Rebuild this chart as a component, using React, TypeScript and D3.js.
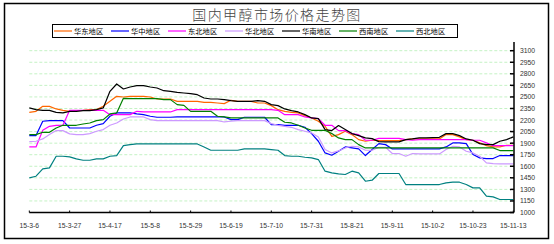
import React from 'react';
import * as d3 from 'd3';

const xTickLabels = ['15-3-6', '15-3-27', '15-4-17', '15-5-8', '15-5-29', '15-6-19', '15-7-10', '15-7-31', '15-8-21', '15-9-11', '15-10-2', '15-10-23', '15-11-13'];
const yTicks = [1000, 1150, 1300, 1450, 1600, 1750, 1900, 2050, 2200, 2350, 2500, 2650, 2800, 2950, 3100];
const seriesNames = ['华东地区', '华中地区', '东北地区', '华北地区', '华南地区', '西南地区', '西北地区'];
const seriesColors = ['#ff6600', '#0000ff', '#ff00ff', '#cc99ff', '#000000', '#008000', '#008080'];

// values every half week from 2015-3-6
const eastChina = [2300, 2313, 2378, 2378, 2344, 2326, 2313, 2322, 2326, 2335, 2335, 2378, 2443, 2508, 2499, 2508, 2508, 2508, 2499, 2473, 2473, 2473, 2443, 2443, 2443, 2443, 2430, 2430, 2421, 2413, 2456, 2443, 2443, 2443, 2421, 2421,
  2387, 2335, 2313, 2300, 2292, 2257, 2227, 2184, 2119, 1989, 2011, 2054, 2011, 1946, 1925, 1938, 1933, 1933, 1933, 1933, 1946, 1955, 1955, 1955, 1955, 1955, 2011, 2011, 1981, 1946, 1938, 1903, 1868, 1851, 1851, 1873, 1873];
const centralChina = [1998, 1998, 2184, 2192, 2192, 2192, 2097, 2097, 2097, 2097, 2132, 2154, 2249, 2292, 2292, 2292, 2279, 2270, 2249, 2236, 2236, 2236, 2240, 2240, 2240, 2240, 2240, 2240, 2240, 2240, 2205, 2205, 2236, 2236, 2236, 2236,
  2141, 2141, 2132, 2132, 2132, 2106, 2024, 1925, 1773, 1743, 1795, 1851, 1838, 1825, 1739, 1817, 1894, 1881, 1825, 1825, 1825, 1825, 1825, 1825, 1825, 1825, 1851, 1903, 1903, 1894, 1752, 1709, 1700, 1700, 1739, 1739, 1739];
const northeast = [1851, 1851, 2067, 2119, 2132, 2132, 2326, 2326, 2326, 2326, 2326, 2326, 2270, 2270, 2270, 2270, 2313, 2305, 2305, 2305, 2305, 2305, 2335, 2335, 2335, 2335, 2335, 2335, 2335, 2335, 2335, 2335, 2335, 2335, 2335, 2335,
  2335, 2326, 2270, 2270, 2270, 2240, 2227, 2218, 2132, 2132, 2063, 2063, 2024, 2011, 1938, 1938, 1963, 1963, 1963, 1963, 1946, 1938, 1946, 1946, 1946, 1946, 1946, 1946, 1946, 1946, 1938, 1938, 1903, 1868, 1868, 1868, 1868];
const northChina = [1920, 1925, 1955, 2011, 2063, 2063, 2020, 2011, 2011, 2024, 2054, 2076, 2132, 2162, 2214, 2240, 2240, 2240, 2205, 2192, 2192, 2192, 2192, 2192, 2192, 2192, 2192, 2192, 2192, 2175, 2184, 2192, 2192, 2192, 2192, 2192,
  2154, 2132, 2119, 2106, 2076, 2054, 2033, 1981, 1817, 1773, 1799, 1838, 1860, 1851, 1808, 1808, 1847, 1847, 1765, 1765, 1730, 1765, 1760, 1760, 1760, 1760, 1817, 1860, 1851, 1795, 1773, 1730, 1644, 1635, 1631, 1631, 1631];
const southChina = [2357, 2335, 2326, 2326, 2300, 2292, 2313, 2313, 2322, 2322, 2335, 2357, 2573, 2668, 2603, 2629, 2646, 2646, 2629, 2616, 2581, 2573, 2560, 2551, 2542, 2529, 2486, 2473, 2473, 2465, 2452, 2443, 2443, 2443, 2452, 2443,
  2400, 2387, 2344, 2322, 2305, 2270, 2227, 2218, 2076, 2063, 2128, 2076, 2024, 1998, 1968, 1959, 1920, 1916, 1916, 1916, 1946, 1955, 1968, 1968, 1972, 1976, 2024, 2024, 1998, 1955, 1938, 1894, 1881, 1881, 1925, 1946, 1981];
const southwest = [2011, 2011, 2041, 2041, 2097, 2132, 2132, 2132, 2149, 2162, 2192, 2205, 2279, 2292, 2482, 2478, 2478, 2478, 2478, 2478, 2465, 2465, 2400, 2391, 2313, 2313, 2313, 2313, 2249, 2240, 2227, 2227, 2227, 2227, 2227, 2227,
  2227, 2227, 2171, 2162, 2132, 2097, 2067, 2067, 2067, 2024, 1968, 1946, 1946, 1881, 1838, 1838, 1838, 1838, 1838, 1838, 1838, 1838, 1838, 1838, 1838, 1838, 1838, 1838, 1838, 1838, 1838, 1838, 1838, 1838, 1804, 1804, 1804];
const northwest = [1449, 1471, 1566, 1579, 1730, 1730, 1722, 1696, 1678, 1678, 1696, 1696, 1730, 1739, 1868, 1881, 1890, 1890, 1890, 1890, 1890, 1890, 1890, 1890, 1890, 1890, 1851, 1808, 1808, 1808, 1808, 1808, 1825, 1825, 1825, 1825,
  1817, 1808, 1739, 1730, 1730, 1717, 1709, 1687, 1536, 1514, 1501, 1493, 1536, 1514, 1406, 1419, 1506, 1506, 1506, 1506, 1363, 1363, 1363, 1363, 1363, 1363, 1385, 1393, 1393, 1363, 1320, 1320, 1212, 1203, 1169, 1169, 1169];

const allSeries = [eastChina, centralChina, northeast, northChina, southChina, southwest, northwest];

const W = 554;
const H = 244;
const plotLeft = 29.3;
const plotRight = 513.3;
const yBottom = 212.5;
const yTop = 50.7;

export default function App() {
  const n = eastChina.length;
  const x = d3.scaleLinear().domain([0, n - 1]).range([plotLeft, plotRight]);
  const y = d3.scaleLinear().domain([1000, 3100]).range([yBottom, yTop]);
  const line = d3.line<number>().x((_, i) => x(i)).y((d) => y(d));
  const step = (n - 1) / (xTickLabels.length - 1);
  const axisX = plotRight + 0.7;
  const legendX0 = 74;
  const legendStep = 57;
  const numFont = '"Liberation Sans", Arial, sans-serif';
  const cjkFont = '"Noto Sans CJK SC", sans-serif';

  return (
    <svg width={W} height={H} style={{ position: 'absolute', left: 0, top: 0, background: '#fff' }}>
      <rect x={4.5} y={3.5} width={544} height={235} fill="#fff" stroke="#000" strokeWidth={1.5} />
      <text x={277} y={20} textAnchor="middle" fontFamily={cjkFont} fontSize={14} fontWeight={300} letterSpacing={1.4} fill="#444">国内甲醇市场价格走势图</text>

      {/* legend */}
      <rect x={52.5} y={24.5} width={405} height={13} fill="#fff" stroke="#000" strokeWidth={1} />
      {seriesNames.map((name, k) => {
        const tx = legendX0 + k * legendStep;
        return (
          <g key={name}>
            <line x1={tx - 20} x2={tx - 2} y1={31} y2={31} stroke={seriesColors[k]} strokeWidth={1.2} />
            <text x={tx} y={33.8} fontFamily={cjkFont} fontSize={7.3} fill="#000">{name}</text>
          </g>
        );
      })}

      {/* gridlines */}
      {yTicks.slice(1).map((t) => (
        <line key={t} x1={plotLeft} x2={axisX - 4} y1={y(t)} y2={y(t)} stroke="#c4f2c4" strokeWidth={1} strokeDasharray="3,2" />
      ))}

      {/* series */}
      {allSeries.map((s, k) => (
        <path key={k} d={line(s) || ''} fill="none" stroke={seriesColors[k]} strokeWidth={1.2} strokeLinejoin="round" />
      ))}

      {/* y axis on right */}
      <line x1={axisX} x2={axisX} y1={42} y2={yBottom} stroke="#000" strokeWidth={1.5} />
      {yTicks.map((t) => (
        <g key={t}>
          <line x1={axisX - 4} x2={axisX} y1={y(t)} y2={y(t)} stroke="#000" strokeWidth={1.5} />
          <text x={520} y={y(t) + 2.5} fontFamily={numFont} fontSize={6.8} fill="#333">{t}</text>
        </g>
      ))}

      {/* x axis */}
      <line x1={plotLeft} x2={axisX} y1={yBottom} y2={yBottom} stroke="#000" strokeWidth={1.5} />
      {xTickLabels.map((lab, k) => (
        <g key={lab}>
          <line x1={x(k * step)} x2={x(k * step)} y1={yBottom - 2} y2={yBottom} stroke="#000" strokeWidth={1} />
          <text x={x(k * step)} y={228} textAnchor="middle" fontFamily={numFont} fontSize={6.8} fill="#333">{lab}</text>
        </g>
      ))}
    </svg>
  );
}
